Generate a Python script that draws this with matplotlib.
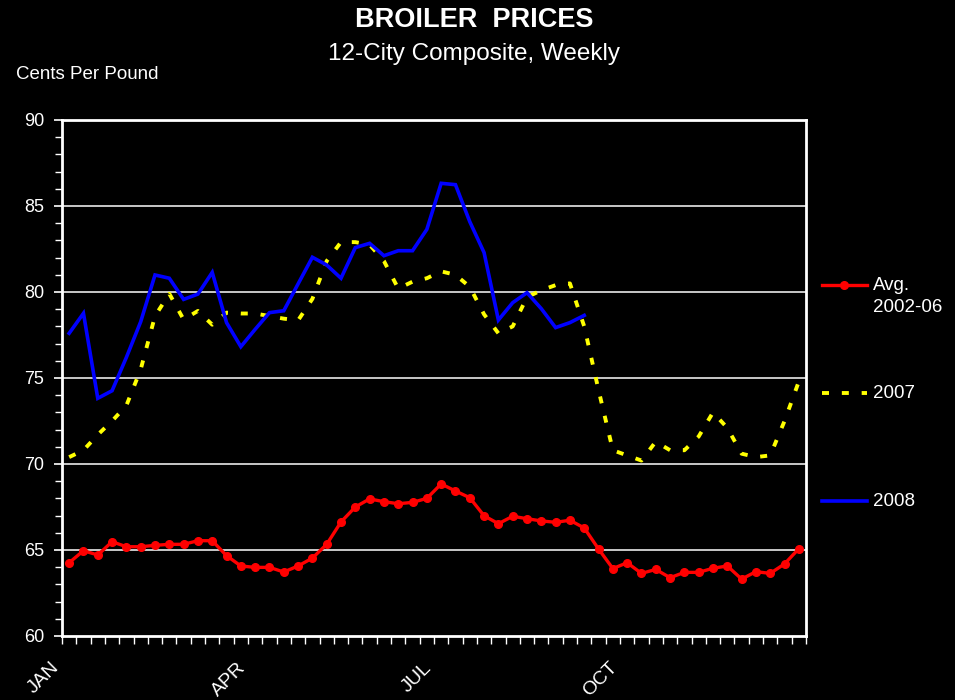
import matplotlib
matplotlib.use("Agg")
import matplotlib.pyplot as plt
from matplotlib.lines import Line2D
from matplotlib.ticker import MultipleLocator, FixedLocator, NullFormatter
import matplotlib.transforms as mtransforms

plt.rcParams['font.family'] = ['Liberation Sans', 'DejaVu Sans']

weeks = list(range(1, 53))

avg_2002_06 = [64.26, 64.96, 64.71, 65.48, 65.19, 65.19, 65.27, 65.33, 65.33, 65.54,
               65.54, 64.67, 64.07, 63.99, 63.99, 63.72, 64.07, 64.53, 65.33, 66.63,
               67.50, 67.97, 67.81, 67.69, 67.77, 68.00, 68.84, 68.43, 68.04, 66.99,
               66.53, 66.96, 66.82, 66.69, 66.61, 66.73, 66.28, 65.06, 63.92, 64.26,
               63.64, 63.87, 63.39, 63.70, 63.70, 63.94, 64.07, 63.31, 63.74, 63.64,
               64.19, 65.08]

y2007 = [70.4, 70.8, 71.7, 72.5, 73.4, 75.5, 78.6, 79.9, 78.4, 78.9,
         78.1, 78.8, 78.75, 78.75, 78.6, 78.45, 78.35, 79.6, 81.8, 82.9,
         82.9, 82.75, 81.8, 80.2, 80.6, 80.8, 81.2, 81.0, 80.3, 78.7,
         77.6, 78.0, 79.7, 80.1, 80.4, 80.5, 78.0, 74.3, 70.8, 70.5,
         70.2, 71.3, 70.8, 70.8, 71.6, 73.0, 72.1, 70.6, 70.4, 70.5,
         72.5, 74.8]

y2008 = [77.60, 78.76, 73.82, 74.26, 76.2, 78.27, 80.99, 80.80, 79.57, 79.88,
         81.14, 78.22, 76.82, 77.83, 78.80, 78.91, 80.47, 82.02, 81.57, 80.80,
         82.58, 82.83, 82.11, 82.40, 82.40, 83.64, 86.32, 86.24, 84.09, 82.29,
         78.37, 79.38, 79.96, 79.03, 77.93, 78.22, 78.64]

month_labels = ['JAN', 'APR', 'JUL', 'OCT']
month_start_week = [0, 13, 26, 39]

legend_labels = ['Avg.\n2002-06', '2007', '2008']

RED = '#ff0000'
YEL = '#ffff00'
BLU = '#0000ff'

fig = plt.figure(figsize=(9.55, 7.0), dpi=100, facecolor='black')
ax = fig.add_axes([62/955, 1-636/700, (806-62)/955, (636-120)/700])
ax.set_facecolor('black')

ax.set_xlim(0.5, 52.5)
ax.set_ylim(60, 90)

for v in range(65, 90, 5):
    ax.axhline(v, color='#d8d8d8', lw=1.3, zorder=1)

ax.plot(weeks, avg_2002_06, color=RED, lw=2.4, marker='o', ms=5.5, zorder=3,
        solid_joinstyle='round')
ax.plot(weeks, y2007, color=YEL, lw=2.8, ls=(0, (1.8, 3.3)), dash_capstyle='butt',
        zorder=4)
ax.plot(weeks[:len(y2008)], y2008, color=BLU, lw=2.6, zorder=5,
        solid_joinstyle='miter')

for s in ax.spines.values():
    s.set_color('white')
    s.set_linewidth(2.0)
    s.set_zorder(6)

ax.yaxis.set_major_locator(MultipleLocator(5))
ax.yaxis.set_minor_locator(MultipleLocator(1))
ax.tick_params(axis='y', which='major', colors='white', labelcolor='white',
               labelsize=13, length=6, width=1.2, pad=7, direction='out')
ax.tick_params(axis='y', which='minor', colors='white', length=5, width=1.0,
               direction='out')

ax.xaxis.set_major_locator(FixedLocator([0.5 + k for k in range(53)]))
ax.xaxis.set_major_formatter(NullFormatter())
ax.tick_params(axis='x', which='major', colors='white', length=6, width=1.0,
               direction='out')

trans = ax.get_xaxis_transform() + mtransforms.ScaledTranslation(-11/100, -23/100,
                                                                  fig.dpi_scale_trans)
for lab, wk in zip(month_labels, month_start_week):
    ax.text(0.5 + wk, 0, lab, transform=trans, rotation=45, ha='right', va='top',
            rotation_mode='anchor', color='white', fontsize=14)

fig.text(474/955, 1-20/700, 'BROILER  PRICES', ha='center', va='center',
         color='white', fontsize=19.5, fontweight='bold')
fig.text(474/955, 1-54/700, '12-City Composite, Weekly', ha='center', va='center',
         color='white', fontsize=17.5)
fig.text(16/955, 1-74.5/700, 'Cents Per Pound', ha='left', va='center',
         color='white', fontsize=13.5)

# legend
leg_y = [285, 393, 501]
styles = [dict(color=RED, lw=2.4), dict(color=YEL, lw=2.8, ls=(0, (1.8, 3.3))),
          dict(color=BLU, lw=2.6)]
for lab, yy, st in zip(legend_labels, leg_y, styles):
    yf = 1 - yy/700
    fig.add_artist(Line2D([822/955, 867/955], [yf, yf], transform=fig.transFigure, **st))
    fig.text(873/955, yf, lab.split('\n')[0], ha='left', va='center', color='white',
             fontsize=13.5)
    if '\n' in lab:
        fig.text(873/955, 1-(yy+23)/700, lab.split('\n')[1], ha='left', va='center',
                 color='white', fontsize=13.5)
fig.add_artist(Line2D([844/955], [1-285/700], transform=fig.transFigure,
                      color=RED, marker='o', ms=5.5, lw=0))

fig.savefig('out.png', dpi=100, facecolor='black')
